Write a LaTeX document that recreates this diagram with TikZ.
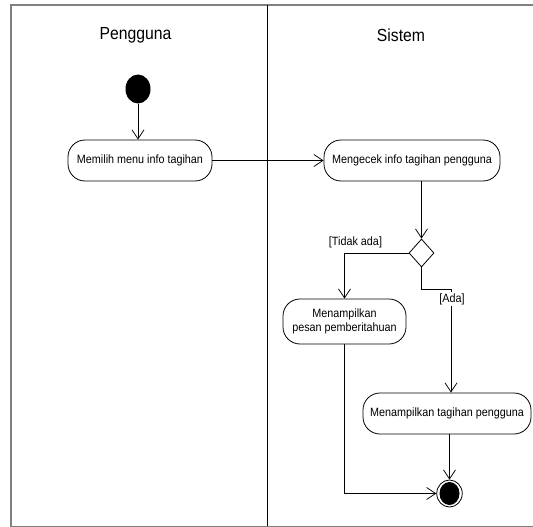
\documentclass[tikz,border=0pt]{standalone}
\usepackage{fontspec}
\usetikzlibrary{arrows.meta,shapes.geometric}
\newfontfamily\umlfont[FakeStretch=0.9]{Liberation Sans}
\begin{document}
\begin{tikzpicture}[x=1pt,y=-1pt,
  action/.style={draw, rounded corners=17pt, inner sep=0pt, align=center,
    font=\umlfont\fontsize{12}{14.5}\selectfont, line width=0.8pt},
  title/.style={font=\umlfont\fontsize{17.5}{20}\selectfont},
  guard/.style={font=\umlfont\fontsize{12}{14}\selectfont, fill=white, inner sep=1pt},
  arr/.style={-{Straight Barb[length=9pt,width=12pt]}, line width=0.8pt},
  frameline/.style={draw=black!50, line width=2pt}]
\useasboundingbox (0,0) rectangle (533,527);
% frame and lanes
\draw[frameline] (11,5) -- (534,5);
\draw[frameline] (11,4) -- (11,527);
\draw[draw=black!50, line width=1pt] (11,526) -- (534,526);
\draw[line width=0.8pt] (267,5) -- (267,526);
\node[title] (t1) at (135.5,35) {Pengguna};
\node[title] (t2) at (401,35) {Sistem};
% nodes
\node[ellipse, fill=black, minimum width=25pt, minimum height=29pt, inner sep=0pt] (start) at (138,89) {};
\node[action, minimum width=144pt, minimum height=41pt] (a1) at (140,160.5) {Memilih menu info tagihan};
\node[action, minimum width=176pt, minimum height=41pt] (a2) at (412,160.5) {Mengecek info tagihan pengguna};
\node[diamond, draw, line width=0.8pt, minimum width=25pt, minimum height=28pt, inner sep=0pt] (d) at (421.5,253) {};
\node[action, minimum width=123pt, minimum height=45pt] (a3) at (344.5,321.5) {Menampilkan\\pesan pemberitahuan};
\node[action, minimum width=168pt, minimum height=41pt] (a4) at (447,413.5) {Menampilkan tagihan pengguna};
\node[ellipse, draw, fill=white, line width=0.8pt, minimum width=25.5pt, minimum height=27pt, inner sep=0pt] (f) at (449.5,493.5) {};
\fill (f.center) ellipse (10pt and 11.5pt);
\coordinate (bend) at (451,289);
% connectors
\draw[arr] (start) -- (start |- a1.north);
\draw[arr] (a1.east) -- (a2.west);
\draw[arr] (d.north |- a2.south) -- (d.north);
\draw[arr] (d.west) -| (a3.north);
\node[guard] (g1) at (355.5,242) {[Tidak ada]};
\draw[line width=0.8pt] (d.south) |- (bend);
\draw[arr] (bend) -- (bend |- a4.north);
\node[guard] (g2) at (452,299) {[Ada]};
\draw[arr] (f.north |- a4.south) -- (f.north);
\draw[arr] (a3.south) |- (f.west);
\end{tikzpicture}
\end{document}
